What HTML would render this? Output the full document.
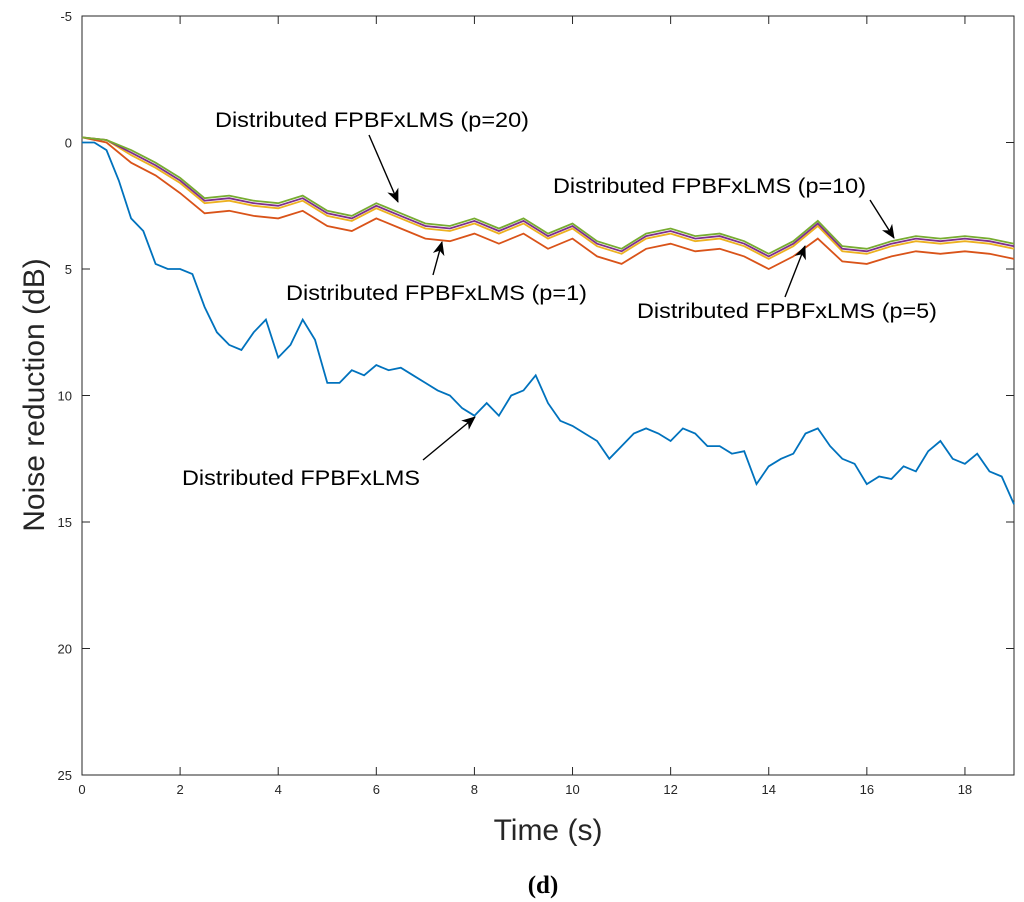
<!DOCTYPE html>
<html><head><meta charset="utf-8"><style>
body{margin:0;background:#fff;}
svg{display:block;font-family:"Liberation Sans",sans-serif;}
</style></head><body>
<svg id="chart" width="1024" height="902"></svg>
<script>
const blueT=[0,0.25,0.5,0.75,1,1.25,1.5,1.75,2,2.25,2.5,2.75,3,3.25,3.5,3.75,4,4.25,4.5,4.75,5,5.25,5.5,5.75,6,6.25,6.5,6.75,7,7.25,7.5,7.75,8,8.25,8.5,8.75,9,9.25,9.5,9.75,10,10.25,10.5,10.75,11,11.25,11.5,11.75,12,12.25,12.5,12.75,13,13.25,13.5,13.75,14,14.25,14.5,14.75,15,15.25,15.5,15.75,16,16.25,16.5,16.75,17,17.25,17.5,17.75,18,18.25,18.5,18.75,19];
const blueV=[0,0,0.3,1.5,3,3.5,4.8,5,5,5.2,6.5,7.5,8,8.2,7.5,7,8.5,8,7,7.8,9.5,9.5,9,9.2,8.8,9,8.9,9.2,9.5,9.8,10,10.5,10.8,10.3,10.8,10,9.8,9.2,10.3,11,11.2,11.5,11.8,12.5,12,11.5,11.3,11.5,11.8,11.3,11.5,12,12,12.3,12.2,13.5,12.8,12.5,12.3,11.5,11.3,12,12.5,12.7,13.5,13.2,13.3,12.8,13,12.2,11.8,12.5,12.7,12.3,13,13.2,14.3];
const upT=[0,0.5,1,1.5,2,2.5,3,3.5,4,4.5,5,5.5,6,6.5,7,7.5,8,8.5,9,9.5,10,10.5,11,11.5,12,12.5,13,13.5,14,14.5,15,15.5,16,16.5,17,17.5,18,18.5,19];
const p1V=[-0.2,0,0.8,1.3,2,2.8,2.7,2.9,3,2.7,3.3,3.5,3,3.4,3.8,3.9,3.6,4,3.6,4.2,3.8,4.5,4.8,4.2,4,4.3,4.2,4.5,5,4.5,3.8,4.7,4.8,4.5,4.3,4.4,4.3,4.4,4.6];
const p5V=[-0.2,-0.1,0.5,1.0,1.6,2.4,2.3,2.5,2.6,2.3,2.9,3.1,2.6,3.0,3.4,3.5,3.2,3.6,3.2,3.8,3.4,4.1,4.4,3.8,3.6,3.9,3.8,4.1,4.6,4.1,3.3,4.3,4.4,4.1,3.9,4.0,3.9,4.0,4.2];
const p10V=[-0.2,-0.1,0.4,0.9,1.5,2.3,2.2,2.4,2.5,2.2,2.8,3.0,2.5,2.9,3.3,3.4,3.1,3.5,3.1,3.7,3.3,4.0,4.3,3.7,3.5,3.8,3.7,4.0,4.5,4.0,3.2,4.2,4.3,4.0,3.8,3.9,3.8,3.9,4.1];
const p20V=[-0.2,-0.1,0.3,0.8,1.4,2.2,2.1,2.3,2.4,2.1,2.7,2.9,2.4,2.8,3.2,3.3,3.0,3.4,3.0,3.6,3.2,3.9,4.2,3.6,3.4,3.7,3.6,3.9,4.4,3.9,3.1,4.1,4.2,3.9,3.7,3.8,3.7,3.8,4.0];
const xTicks=[0,2,4,6,8,10,12,14,16,18];
const yTicks=[-5,0,5,10,15,20,25];

const NS="http://www.w3.org/2000/svg";
const svg=document.getElementById('chart');
const L=82,R=1014,T=16,B=775;
const xs=t=>L+(t-0)/(19-0)*(R-L);
const ys=v=>T+(v+5)/30*(B-T);
function mk(tag,attrs,parent){const e=document.createElementNS(NS,tag);for(const k in attrs)e.setAttribute(k,attrs[k]);(parent||svg).appendChild(e);return e;}

const defs=mk('defs',{});
const mkr=mk('marker',{id:'ah',markerWidth:'14',markerHeight:'12',refX:'13',refY:'6',orient:'auto',markerUnits:'userSpaceOnUse'},defs);
mk('path',{d:'M0,0 L14,6 L0,12 L4,6 Z',fill:'#000'},mkr);

const frame=mk('rect',{x:L,y:T,width:R-L,height:B-T,fill:'#fff',stroke:'#262626','stroke-width':1});



xTicks.forEach(t=>{
  const x=xs(t);
  mk('line',{x1:x,x2:x,y1:B,y2:B-8,stroke:'#262626'});
  mk('line',{x1:x,x2:x,y1:T,y2:T+8,stroke:'#262626'});
  const tx=mk('text',{x:x,y:B+19,'text-anchor':'middle','font-size':13,fill:'#262626'});
  tx.textContent=t;
  
  
});
yTicks.forEach(v=>{
  const y=ys(v);
  mk('line',{x1:L,x2:L+8,y1:y,y2:y,stroke:'#262626'});
  mk('line',{x1:R,x2:R-8,y1:y,y2:y,stroke:'#262626'});
  const tx=mk('text',{x:L-10,y:y+5,'text-anchor':'end','font-size':13,fill:'#262626'});
  tx.textContent=v;
  
  
});

function series(T_,V,color,name){
  const d=T_.map((t,i)=>(i?'L':'M')+xs(t).toFixed(1)+','+ys(V[i]).toFixed(1)).join(' ');
  const p=mk('path',{d:d,fill:'none',stroke:color,'stroke-width':1.8});
  
  
}
series(upT,p1V,'#D95319','line-p1');
series(upT,p5V,'#EDB120','line-p5');
series(upT,p10V,'#7E2F8E','line-p10');
series(upT,p20V,'#77AC30','line-p20');
series(blueT,blueV,'#0072BD','line-distributed');

function ann(txt,x,y,w,ax1,ay1,ax2,ay2,name){
  const t=mk('text',{x:x,y:y,'font-size':21,fill:'#000',textLength:w,lengthAdjust:'spacingAndGlyphs'});
  t.textContent=txt;
  
  
  const a=mk('line',{x1:ax1,y1:ay1,x2:ax2,y2:ay2,stroke:'#000','stroke-width':1.4,'marker-end':'url(#ah)'});
  
  
}
ann('Distributed FPBFxLMS (p=20)',215,127,314,369,135,398,202,'annotation-p20');
ann('Distributed FPBFxLMS (p=10)',553,193,313,870,200,894,238,'annotation-p10');
ann('Distributed FPBFxLMS (p=1)',286,300,301,433,275,442,242,'annotation-p1');
ann('Distributed FPBFxLMS (p=5)',637,318,300,785,297,805,246,'annotation-p5');
ann('Distributed FPBFxLMS',182,485,238,423,460,475,417,'annotation-distributed');

const xl=mk('text',{x:548,y:840,'text-anchor':'middle','font-size':30,fill:'#262626'});
xl.textContent='Time (s)';


const yl=mk('text',{x:0,y:0,'text-anchor':'middle','font-size':30,fill:'#262626',transform:'translate(44,395) rotate(-90)'});
yl.textContent='Noise reduction (dB)';


const cap=mk('text',{x:543,y:893,'text-anchor':'middle','font-size':25,'font-weight':'bold','font-family':'Liberation Serif,serif',fill:'#000'});
cap.textContent='(d)';


</script>
</body></html>
